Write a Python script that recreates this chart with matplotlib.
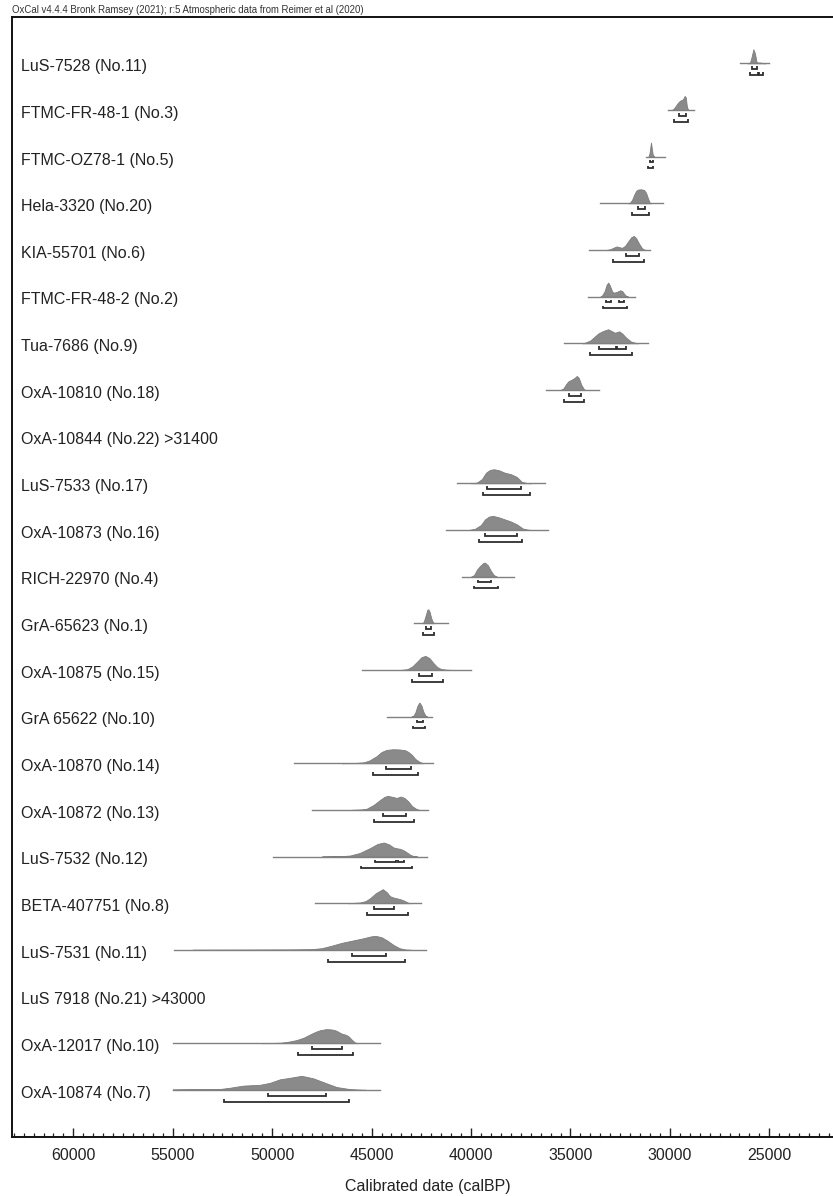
import numpy as np
import matplotlib.pyplot as plt
from matplotlib.transforms import blended_transform_factory

plt.rcParams['font.family'] = ['Liberation Sans', 'DejaVu Sans']

# Sample labels, top to bottom
labels = [
    "LuS-7528 (No.11)", "FTMC-FR-48-1 (No.3)", "FTMC-OZ78-1 (No.5)",
    "Hela-3320 (No.20)", "KIA-55701 (No.6)", "FTMC-FR-48-2 (No.2)",
    "Tua-7686 (No.9)", "OxA-10810 (No.18)", "OxA-10844 (No.22) >31400",
    "LuS-7533 (No.17)", "OxA-10873 (No.16)", "RICH-22970 (No.4)",
    "GrA-65623 (No.1)", "OxA-10875 (No.15)", "GrA 65622 (No.10)",
    "OxA-10870 (No.14)", "OxA-10872 (No.13)", "LuS-7532 (No.12)",
    "BETA-407751 (No.8)", "LuS-7531 (No.11)", "LuS 7918 (No.21) >43000",
    "OxA-12017 (No.10)", "OxA-10874 (No.7)",
]

# Extent of each calibrated distribution (calBP, old -> young); None = no curve
baseline_ranges = [
    (26470, 25000), (30075, 28770), (31200, 30245), (33515, 30330),
    (34050, 31000), (34100, 31750), (35310, 31085), (36245, 33565),
    None,
    (40705, 36280), (41250, 36130), (40450, 37840), (42850, 41145),
    (45500, 40000), (44210, 41980), (48900, 41900), (48010, 42180),
    (49975, 42200), (47850, 42515), (54940, 42265),
    None,
    (54975, 44580), (55000, 44580),
]

# Probability density outline: dates (calBP) and relative height (peak = 1)
curve_dates = [
    [26100, 25970, 25900, 25800, 25720, 25650, 25600, 25500, 25400, 25300, 25200],
    [29900, 29800, 29700, 29600, 29500, 29400, 29330, 29260, 29200, 29150, 29100, 29050],
    [31080, 31030, 30980, 30950, 30920, 30870, 30820, 30780],
    [32100, 32000, 31900, 31800, 31700, 31600, 31450, 31300, 31200, 31100, 31030, 30950],
    [33200, 33000, 32800, 32680, 32550, 32400, 32250, 32100, 31950, 31820, 31700, 31550, 31400, 31300, 31200],
    [33500, 33400, 33280, 33180, 33100, 33020, 32900, 32800, 32650, 32500, 32400, 32300, 32200, 32100],
    [34400, 34250, 34000, 33800, 33600, 33350, 33100, 32900, 32760, 32550, 32400, 32200, 31950, 31700, 31600],
    [35500, 35360, 35200, 35100, 34950, 34800, 34680, 34580, 34450, 34320, 34250],
    None,
    [40000, 39700, 39450, 39250, 39050, 38850, 38600, 38300, 38000, 37700, 37450, 37200, 37000],
    [40100, 39800, 39500, 39300, 39100, 38900, 38650, 38300, 38000, 37700, 37400, 37150, 37000],
    [40000, 39850, 39700, 39550, 39400, 39300, 39150, 39000, 38850, 38700],
    [42450, 42380, 42280, 42200, 42150, 42080, 42000, 41920, 41850],
    [43500, 43200, 42950, 42700, 42500, 42300, 42100, 41900, 41700, 41500, 41200, 41000],
    [43000, 42900, 42800, 42700, 42600, 42500, 42400, 42300, 42200],
    [46500, 45800, 45400, 45100, 44750, 44500, 44250, 43900, 43600, 43320, 43150, 42980, 42800, 42570, 42400],
    [46000, 45500, 45250, 44900, 44580, 44350, 44190, 43950, 43740, 43540, 43350, 43155, 42950, 42730, 42600],
    [47500, 46500, 46090, 45600, 45080, 44700, 44380, 44100, 43910, 43700, 43570, 43400, 43235, 43050, 42870, 42700],
    [46200, 45580, 45300, 45080, 44800, 44440, 44250, 44075, 43900, 43740, 43550, 43400, 43155, 43000],
    [54000, 51000, 49000, 48000, 47500, 47000, 46500, 46000, 45500, 45000, 44800, 44500, 44200, 43900, 43600, 43300, 43000],
    None,
    [50500, 49600, 49200, 48770, 48400, 48100, 47800, 47600, 47300, 47090, 46900, 46760, 46600, 46500, 46300, 46170, 46000, 45840, 45700],
    [55000, 54130, 53000, 52620, 52120, 51450, 50610, 50110, 49610, 49100, 48520, 47930, 47430, 46760, 46090, 45580, 45300],
]
curve_heights = [
    [0, 0.05, 0.4, 1.0, 0.7, 0.15, 0.05, 0.06, 0.04, 0.02, 0],
    [0, 0.1, 0.3, 0.5, 0.65, 0.72, 0.78, 1.0, 0.9, 0.3, 0.05, 0],
    [0, 0.2, 0.7, 1.0, 0.7, 0.2, 0.03, 0],
    [0, 0.05, 0.25, 0.6, 0.88, 0.98, 1.0, 0.95, 0.75, 0.35, 0.08, 0],
    [0, 0.05, 0.18, 0.25, 0.2, 0.15, 0.3, 0.6, 0.9, 1.0, 0.85, 0.45, 0.12, 0.03, 0],
    [0, 0.1, 0.4, 0.85, 1.0, 0.8, 0.35, 0.28, 0.35, 0.45, 0.4, 0.2, 0.05, 0],
    [0, 0.05, 0.2, 0.45, 0.7, 0.88, 1.0, 0.85, 0.75, 0.85, 0.7, 0.4, 0.12, 0.02, 0],
    [0, 0.1, 0.45, 0.62, 0.72, 0.85, 1.0, 0.85, 0.35, 0.05, 0],
    None,
    [0, 0.05, 0.3, 0.75, 0.95, 1.0, 0.93, 0.75, 0.65, 0.45, 0.1, 0.02, 0],
    [0, 0.08, 0.35, 0.75, 0.95, 1.0, 0.92, 0.75, 0.6, 0.4, 0.1, 0.02, 0],
    [0, 0.1, 0.5, 0.75, 0.95, 1.0, 0.8, 0.4, 0.1, 0],
    [0, 0.1, 0.55, 0.95, 1.0, 0.8, 0.35, 0.08, 0],
    [0, 0.05, 0.25, 0.6, 0.9, 1.0, 0.85, 0.5, 0.2, 0.06, 0.01, 0],
    [0, 0.05, 0.3, 0.75, 1.0, 0.8, 0.35, 0.08, 0],
    [0, 0.02, 0.06, 0.2, 0.5, 0.8, 0.95, 1.0, 0.98, 0.93, 0.8, 0.6, 0.3, 0.08, 0],
    [0, 0.03, 0.08, 0.35, 0.7, 0.93, 1.0, 0.93, 0.85, 0.95, 0.85, 0.6, 0.25, 0.05, 0],
    [0, 0.03, 0.07, 0.25, 0.6, 0.9, 1.0, 0.85, 0.65, 0.58, 0.55, 0.45, 0.3, 0.12, 0.02, 0],
    [0, 0.05, 0.15, 0.35, 0.7, 1.0, 0.8, 0.5, 0.4, 0.35, 0.28, 0.2, 0.03, 0],
    [0.01, 0.02, 0.03, 0.05, 0.12, 0.3, 0.5, 0.65, 0.8, 0.97, 1.0, 0.9, 0.65, 0.35, 0.12, 0.02, 0],
    None,
    [0, 0.03, 0.1, 0.22, 0.4, 0.62, 0.82, 0.92, 1.0, 0.99, 0.95, 0.88, 0.75, 0.68, 0.6, 0.5, 0.25, 0.05, 0],
    [0.03, 0.05, 0.05, 0.06, 0.15, 0.3, 0.36, 0.5, 0.75, 0.86, 1.0, 0.82, 0.55, 0.2, 0.05, 0.01, 0],
]

# Highest posterior density ranges (calBP)
ranges_68 = [
    [(25885, 25635)], [(29555, 29190)], [(31015, 30870)], [(31620, 31250)],
    [(32210, 31540)], [(33230, 32980), (32545, 32310)],
    [(33565, 32730), (32680, 32205)], [(35075, 34470)],
    [],
    [(39200, 37490)], [(39300, 37700)], [(39650, 38995)], [(42280, 42010)],
    [(42615, 41980)], [(42735, 42430)], [(44275, 43035)], [(44410, 43270)],
    [(44815, 43760), (43680, 43370)], [(44880, 43875)], [(45985, 44300)],
    [],
    [(48015, 46505)], [(50225, 47295)],
]
ranges_95 = [
    [(25970, 25560), (25500, 25330)], [(29795, 29105)], [(31080, 30835)],
    [(31890, 31050)], [(32875, 31300)], [(33350, 32170)], [(34015, 31890)],
    [(35310, 34305)],
    [],
    [(39400, 37035)], [(39600, 37450)], [(39850, 38645)], [(42400, 41860)],
    [(42985, 41425)], [(42905, 42315)], [(44915, 42650)], [(44865, 42870)],
    [(45550, 42955)], [(45245, 43185)], [(47200, 43300)],
    [],
    [(48715, 45920)], [(52410, 46120)],
]

FIG_W, FIG_H = 833, 1196
DPI = 100
LEFT_PX, RIGHT_PX = 12.3, 860.0
TOP_PX, BOTTOM_PX = 17.0, 1136.7
ROW0_PX, ROW_STEP_PX = 66.7, 46.66
YEARS_PER_PX = 50.29
X_LEFT = 25000 + (769.3 - LEFT_PX) * YEARS_PER_PX
X_RIGHT = 25000 - (RIGHT_PX - 769.3) * YEARS_PER_PX

fig = plt.figure(figsize=(FIG_W / DPI, FIG_H / DPI), dpi=DPI)
ax = fig.add_axes([LEFT_PX / FIG_W, (FIG_H - BOTTOM_PX) / FIG_H,
                   (RIGHT_PX - LEFT_PX) / FIG_W, (BOTTOM_PX - TOP_PX) / FIG_H])

px = 1.0 / ROW_STEP_PX          # one pixel in row units
base_off = -3.4 * px            # curve baseline relative to label centre
peak_h = 14.0 * px
off_68 = base_off + 5.7 * px
off_95 = base_off + 11.7 * px
tick_h = 2.6 * px

fill_col = "#8a8a8a"
line_col = "#808080"
bracket_col = "#2e2e2e"

label_tr = blended_transform_factory(ax.transAxes, ax.transData)
label_x = (20.7 - LEFT_PX) / (RIGHT_PX - LEFT_PX)


def draw_bracket(a, b, y):
    ax.plot([a, a, b, b], [y - tick_h, y, y, y - tick_h], color=bracket_col,
            lw=1.3, solid_joinstyle="miter", solid_capstyle="butt")


for i, name in enumerate(labels):
    ax.text(label_x, i, name, transform=label_tr, ha="left", va="center",
            fontsize=11.5, color="#222222")
    if baseline_ranges[i] is None:
        continue
    base = i + base_off
    b0, b1 = baseline_ranges[i]
    ax.plot([b0, b1], [base, base], color=line_col, lw=1.0)
    d = np.array(curve_dates[i], dtype=float)
    h = np.array(curve_heights[i], dtype=float)
    ax.fill_between(d, base, base - h * peak_h, color=fill_col, lw=0.6,
                    edgecolor="#7c7c7c")
    for a, b in ranges_68[i]:
        draw_bracket(a, b, i + off_68)
    for a, b in ranges_95[i]:
        draw_bracket(a, b, i + off_95)

# Axis styling; limits set after the ticks so they are not widened
for side in ("left", "top", "bottom", "right"):
    ax.spines[side].set_linewidth(1.4)
    ax.spines[side].set_color("#111111")
ax.set_yticks([])
ax.set_xticks(np.arange(25000, 60001, 5000))
ax.set_xticks(np.arange(21000, 63001, 500), minor=True)
ax.set_xlim(X_LEFT, X_RIGHT)
ax.set_ylim((BOTTOM_PX - ROW0_PX) / ROW_STEP_PX, (TOP_PX - ROW0_PX) / ROW_STEP_PX)
ax.tick_params(axis="x", which="major", direction="in", length=6.5, width=1.0,
               labelsize=11.5, pad=8, colors="#222222")
ax.tick_params(axis="x", which="minor", direction="in", length=2.9, width=0.9,
               colors="#222222")

fig.text(428 / FIG_W, 1 - 1186 / FIG_H, "Calibrated date (calBP)", ha="center",
         va="center", fontsize=11.5, color="#222222")
fig.text(12 / FIG_W, 1 - 10 / FIG_H,
         "OxCal v4.4.4 Bronk Ramsey (2021); r:5 Atmospheric data from Reimer et al (2020)",
         ha="left", va="center", fontsize=6.9, color="#333333")

fig.savefig("out.png", dpi=DPI)
